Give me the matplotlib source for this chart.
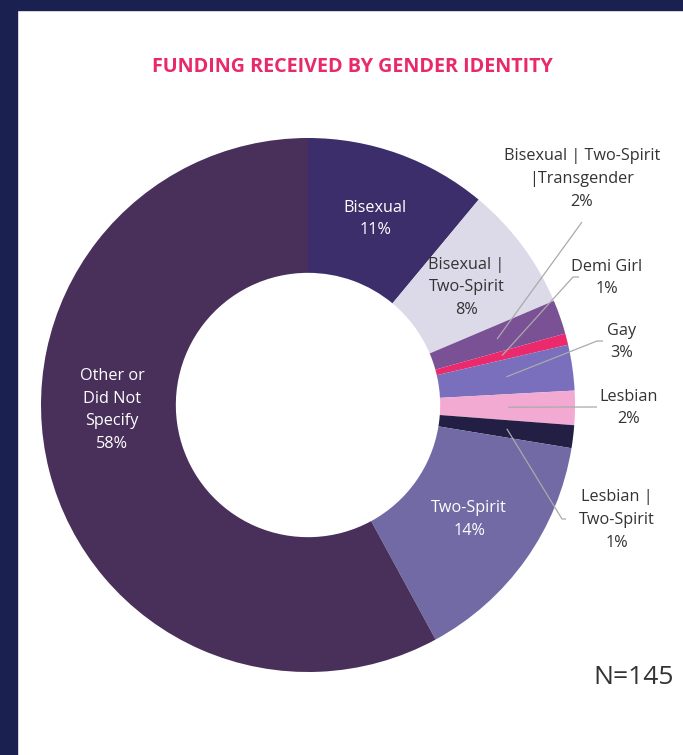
"""Donut chart: funding received by gender identity (N=145)."""
import numpy as np
import matplotlib

matplotlib.use("Agg")
import matplotlib.pyplot as plt
from matplotlib.patches import Rectangle

plt.rcParams["font.family"] = ["Open Sans", "DejaVu Sans"]

# data (counts out of N=145)
categories = [
    "Bisexual",
    "Bisexual |\nTwo-Spirit",
    "Bisexual | Two-Spirit\n|Transgender",
    "Demi Girl",
    "Gay",
    "Lesbian",
    "Lesbian |\nTwo-Spirit",
    "Two-Spirit",
    "Other or\nDid Not\nSpecify",
]
counts = [16, 11, 3, 1, 4, 3, 2, 21, 84]
pct_labels = ["11%", "8%", "2%", "1%", "3%", "2%", "1%", "14%", "58%"]
colors = ["#3C2E6B", "#DCD9E9", "#7A5194", "#EA2A6C", "#7A6FBC",
          "#F2AAD3", "#231E43", "#716AA4", "#49305A"]
N_TOTAL = 145

W, H = 683, 755
CX, CY, R = 308, 405, 267

fig = plt.figure(figsize=(W / 100, H / 100), dpi=100)
fig.patch.set_facecolor("white")
# navy frame on the left and top
fig.patches.append(Rectangle((0, 0), 17 / W, 1, transform=fig.transFigure,
                             color="#1A2050", zorder=0))
fig.patches.append(Rectangle((0, 1 - 10 / H), 1, 10 / H, transform=fig.transFigure,
                             color="#1A2050", zorder=0))

ax = fig.add_axes([(CX - R) / W, (H - CY - R) / H, 2 * R / W, 2 * R / H])
wedges, _ = ax.pie(counts, colors=colors, startangle=90, counterclock=False,
                   radius=1.0, wedgeprops=dict(width=0.505, linewidth=0))
ax.set_xlim(-1, 1)
ax.set_ylim(-1, 1)
ax.set_aspect("equal")
ax.axis("off")


def mid(i, r=0.75):
    w = wedges[i]
    a = np.deg2rad((w.theta1 + w.theta2) / 2)
    return r * np.cos(a), r * np.sin(a)


def px(x, y):
    return (x - CX) / R, (CY - y) / R


txt = dict(ha="center", va="center", fontsize=11.7, linespacing=1.55)

# labels inside the ring
for i in (0, 1, 7):
    x, y = mid(i, 0.74)
    col = "#333333" if i == 1 else "white"
    ax.text(x, y, f"{categories[i]}\n{pct_labels[i]}", color=col, **txt)
ax.text(*px(112, 410), f"{categories[8]}\n{pct_labels[8]}", color="white", **txt)

# labels outside with leader lines: (text pos, line points in px)
outside = {
    2: ((582, 179), [(582, 222)]),
    3: ((607, 278), [(579, 277), (573, 277)]),
    4: ((622, 342), [(603, 341), (597, 341)]),
    5: ((629, 408), [(597, 407)]),
    6: ((617, 520), [(566, 519), (562, 519)]),
}
for i, (tpos, pts) in outside.items():
    ax.text(*px(*tpos), f"{categories[i]}\n{pct_labels[i]}", color="#333333",
            clip_on=False, **txt)
    xs = [px(*p)[0] for p in pts] + [mid(i)[0]]
    ys = [px(*p)[1] for p in pts] + [mid(i)[1]]
    ax.plot(xs, ys, color="#AAAAAA", lw=0.9, clip_on=False, solid_capstyle="butt")

fig.text(352.5 / W, 1 - 67 / H, "FUNDING RECEIVED BY GENDER IDENTITY",
         ha="center", va="center", fontsize=14.2, fontweight="bold", color="#E8296B")
fig.text(674 / W, 1 - 678 / H, f"N={N_TOTAL}", ha="right", va="center",
         fontsize=19, color="#333333")

fig.savefig("out.png", dpi=100)
